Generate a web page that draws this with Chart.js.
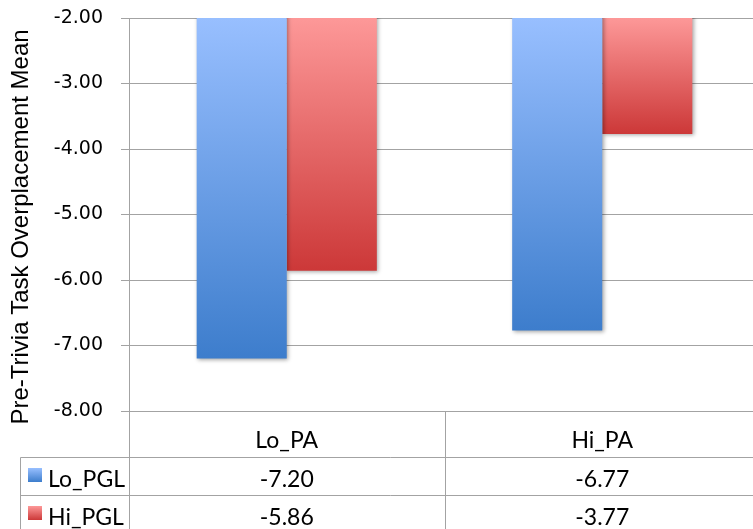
<!DOCTYPE html>
<html>
<head>
<meta charset="utf-8">
<script src="https://cdn.jsdelivr.net/npm/chart.js@4/dist/chart.umd.min.js"></script>
<style>
  html, body { margin: 0; padding: 0; background: #fff; overflow: hidden; }
  #wrap { width: 753px; height: 529px; overflow: hidden; position: relative; }
  canvas { display: block; }
</style>
</head>
<body>
<div id="wrap"><canvas id="chart" width="760" height="529"></canvas></div>
<script>
// Category labels, series names and values
const categories = ['Lo_PA', 'Hi_PA'];
const seriesNames = ['Lo_PGL', 'Hi_PGL'];
const loPGL = [-7.20, -6.77];
const hiPGL = [-5.86, -3.77];
const yTicks = [-8, -7, -6, -5, -4, -3, -2];
const yTitle = 'Pre-Trivia Task Overplacement Mean';

// Gradient stops (top, bottom) for each series
const blueStops = ['#98bfff', '#3d7dcc'];
const redStops = ['#fd9898', '#cc3838'];
const lineColor = '#a3a3a3';

function makeGradient(c, top, bottom, stops) {
  const g = c.createLinearGradient(0, top, 0, bottom);
  g.addColorStop(0, stops[0]);
  g.addColorStop(1, stops[1]);
  return g;
}

// Vertical gradient spanning each bar from the baseline (-2) to its value
function barGradient(stops) {
  return (ctx) => {
    if (ctx.type !== 'data' || !ctx.parsed) return stops[1];
    const chart = ctx.chart;
    const ys = chart.scales.y;
    if (!ys) return stops[1];
    const top = ys.getPixelForValue(ys.max);
    const bottom = ys.getPixelForValue(ctx.parsed.y);
    if (!isFinite(top) || !isFinite(bottom) || top === bottom) return stops[1];
    return makeGradient(chart.ctx, top, bottom, stops);
  };
}

// Soft drop shadow under the bars
const barShadow = {
  id: 'barShadow',
  beforeDatasetsDraw(chart) {
    const c = chart.ctx;
    c.save();
    c.shadowColor = 'rgba(0,0,0,0.35)';
    c.shadowBlur = 4;
    c.shadowOffsetX = 1.5;
    c.shadowOffsetY = 1.5;
  },
  afterDatasetsDraw(chart) {
    chart.ctx.restore();
  }
};

// Data table under the plot plus the rotated axis title
const dataTable = {
  id: 'dataTable',
  afterDraw(chart) {
    const c = chart.ctx;
    const xs = chart.scales.x;
    const area = chart.chartArea;
    const rowTop = area.bottom;
    const r1 = rowTop + 46;
    const r2 = r1 + 38;
    const r3 = r2 + 38;
    const tableLeft = 20.5;
    const right = chart.width;

    c.save();
    c.strokeStyle = lineColor;
    c.lineWidth = 1;
    c.beginPath();
    // horizontal rules
    [r1, r2].forEach(yy => {
      c.moveTo(tableLeft, Math.round(yy) + 0.5);
      c.lineTo(right, Math.round(yy) + 0.5);
    });
    // left edge of the series column
    c.moveTo(tableLeft, Math.round(r1) + 0.5);
    c.lineTo(tableLeft, r3 + 10);
    // axis line continued through the table
    const ax = Math.round(area.left) + 0.5;
    c.moveTo(ax, rowTop);
    c.lineTo(ax, r3 + 10);
    // dividers between categories
    for (let i = 0; i < categories.length - 1; i++) {
      const dx = Math.round((xs.getPixelForValue(i) + xs.getPixelForValue(i + 1)) / 2) + 0.5;
      c.moveTo(dx, rowTop);
      c.lineTo(dx, r3 + 10);
    }
    c.stroke();

    c.fillStyle = '#000';
    c.font = '23px Lato, "Noto Sans", sans-serif';
    c.textBaseline = 'alphabetic';
    c.textAlign = 'center';
    categories.forEach((cat, i) => {
      const cx = xs.getPixelForValue(i);
      c.fillText(cat, cx, rowTop + 37);
      c.fillText(loPGL[i].toFixed(2), cx, r1 + 30);
      c.fillText(hiPGL[i].toFixed(2), cx, r2 + 30);
    });

    // series keys and names
    c.textAlign = 'left';
    [[seriesNames[0], blueStops, r1], [seriesNames[1], redStops, r2]].forEach(([name, stops, ry]) => {
      const ky = ry + 11;
      c.fillStyle = makeGradient(c, ky, ky + 14, stops);
      c.fillRect(28, ky, 14, 14);
      c.fillStyle = '#000';
      c.fillText(name, 48, ry + 30);
    });

    // rotated axis title
    c.translate(21, 227);
    c.rotate(-Math.PI / 2);
    c.textAlign = 'center';
    c.textBaseline = 'middle';
    c.font = '24px "Liberation Sans", Arial, sans-serif';
    c.fillText(yTitle, 0, 0);
    c.restore();
  }
};

new Chart(document.getElementById('chart'), {
  type: 'bar',
  data: {
    labels: categories,
    datasets: [
      { label: seriesNames[0], data: loPGL, backgroundColor: barGradient(blueStops) },
      { label: seriesNames[1], data: hiPGL, backgroundColor: barGradient(redStops) }
    ]
  },
  options: {
    responsive: false,
    animation: false,
    layout: { padding: { left: 0, right: 0, top: 18, bottom: 118 } },
    datasets: {
      bar: { categoryPercentage: 0.571, barPercentage: 1, borderWidth: 0 }
    },
    plugins: {
      legend: { display: false },
      tooltip: { enabled: false },
      title: { display: false }
    },
    scales: {
      x: {
        display: false,
        offset: true
      },
      y: {
        min: -8,
        max: -2,
        afterBuildTicks(scale) {
          scale.ticks = yTicks.map(v => ({ value: v }));
        },
        afterFit(scale) {
          scale.width = 129;
          scale.paddingTop = 0;
          scale.paddingBottom = 0;
        },
        ticks: {
          font: { family: '"DejaVu Sans", sans-serif', size: 19 },
          color: '#000',
          padding: 18,
          callback: (v) => Number(v).toFixed(2)
        },
        grid: { color: lineColor, lineWidth: 1, tickLength: 8, drawTicks: true },
        border: { color: lineColor, width: 1 }
      }
    }
  },
  plugins: [barShadow, dataTable]
});
</script>
</body>
</html>
